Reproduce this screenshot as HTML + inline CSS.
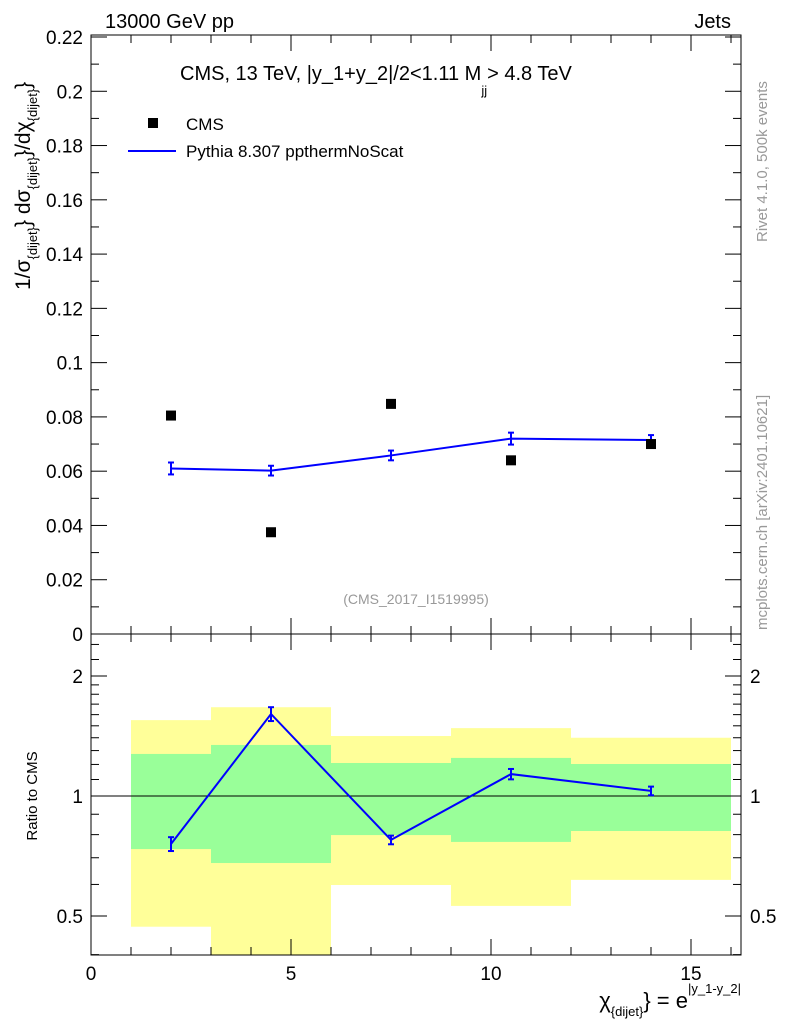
<!DOCTYPE html>
<html><head><meta charset="utf-8"><style>
body{margin:0;background:#fff;}
svg text{font-family:"Liberation Sans",sans-serif;}
</style></head><body>
<svg id="c" width="786" height="1024" xmlns="http://www.w3.org/2000/svg"></svg>
<script>
const xBins=[2,4.5,7.5,10.5,14];
const cmsVals=[0.0805,0.0375,0.0848,0.064,0.070];
const pyVals=[0.061,0.0602,0.0658,0.072,0.0715];
const pyErr=[0.0022,0.0018,0.0018,0.0022,0.0018];
const ratioVals=[0.758,1.606,0.776,1.135,1.03];
const ratioErr=[0.04,0.04,0.025,0.03,0.025];
const binEdges=[1,3,6,9,12,16];
const yellowHi=[1.55,1.67,1.414,1.48,1.40];
const yellowLo=[0.47,0.35,0.598,0.53,0.616];
const greenHi=[1.275,1.343,1.21,1.246,1.203];
const greenLo=[0.736,0.679,0.798,0.767,0.817];
const mainTicks=[0,0.02,0.04,0.06,0.08,0.1,0.12,0.14,0.16,0.18,0.2,0.22];
const mainTickLabels=["0","0.02","0.04","0.06","0.08","0.1","0.12","0.14","0.16","0.18","0.2","0.22"];
const xTicks=[0,5,10,15];
const ratioTicks=[0.5,1,2];

const svg=document.getElementById('c');
const NS="http://www.w3.org/2000/svg";
const L=91,R=741,T=35,MB=634,RB=955;
const X=v=>L+v*40;
const Y=v=>634-v*(597/0.22);
const RY=v=>796-Math.log2(v)*120;
function el(t,a,p){const e=document.createElementNS(NS,t);for(const k in a)e.setAttribute(k,a[k]);(p||svg).appendChild(e);return e;}
function tx(s,x,y,o){const e=el('text',Object.assign({x:x,y:y,'font-size':19,fill:'#000'},o||{}));e.textContent=s;return e;}
function rich(parts,x,y,o){const e=el('text',Object.assign({x:x,y:y,fill:'#000'},o||{}));let cur=0;parts.forEach(p=>{const s=el('tspan',{'font-size':p[1],dy:p[2]-cur},e);s.textContent=p[0];cur=p[2];});return e;}

// bands
const clipR=el('clipPath',{id:'cr'});el('rect',{x:L,y:MB,width:R-L,height:RB-MB},clipR);
const bands=el('g',{'clip-path':'url(#cr)'});

for(let i=0;i<5;i++){
 const y=el('rect',{x:X(binEdges[i]),width:X(binEdges[i+1])-X(binEdges[i]),y:RY(yellowHi[i]),height:RY(yellowLo[i])-RY(yellowHi[i]),fill:'#ffff99'},bands);
 
 const g=el('rect',{x:X(binEdges[i]),width:X(binEdges[i+1])-X(binEdges[i]),y:RY(greenHi[i]),height:RY(greenLo[i])-RY(greenHi[i]),fill:'#99ff99'},bands);
 
}
el('line',{x1:L,x2:R,y1:RY(1),y2:RY(1),stroke:'#000','stroke-width':1});

el('rect',{x:L,y:T,width:R-L,height:MB-T,fill:'none',stroke:'#000','stroke-width':1});
el('rect',{x:L,y:MB,width:R-L,height:RB-MB,fill:'none',stroke:'#000','stroke-width':1});

mainTicks.forEach((v,i)=>{
 const y=Y(v);
 el('line',{x1:L,x2:L+16,y1:y,y2:y,stroke:'#000'});el('line',{x1:R,x2:R-16,y1:y,y2:y,stroke:'#000'});
 if(i<mainTicks.length-1){const ym=Y(v+0.01);el('line',{x1:L,x2:L+8,y1:ym,y2:ym,stroke:'#000'});el('line',{x1:R,x2:R-8,y1:ym,y2:ym,stroke:'#000'});}
 const t=tx(mainTickLabels[i],83,y+7,{'text-anchor':'end'});
 
});
for(let v=0;v<=16;v++){
 const x=X(v),big=v%5==0,h=big?16:8;
 el('line',{x1:x,x2:x,y1:MB,y2:MB-h,stroke:'#000'});el('line',{x1:x,x2:x,y1:T,y2:T+h,stroke:'#000'});
 el('line',{x1:x,x2:x,y1:RB,y2:RB-h,stroke:'#000'});el('line',{x1:x,x2:x,y1:MB,y2:MB+h,stroke:'#000'});
}
xTicks.forEach(v=>{const t=tx(String(v),X(v),980,{'text-anchor':'middle'});});
ratioTicks.forEach(v=>{
 const y=RY(v);
 el('line',{x1:L,x2:L+16,y1:y,y2:y,stroke:'#000'});el('line',{x1:R,x2:R-16,y1:y,y2:y,stroke:'#000'});
 const lab=v==0.5?"0.5":String(v);
 const a=tx(lab,83,y+7,{'text-anchor':'end'});
 const b=tx(lab,750,y+7);
});
[0.4,0.6,0.7,0.8,0.9,1.1,1.2,1.3,1.4,1.5,1.6,1.7,1.8,1.9,2.2,2.4].forEach(v=>{const y=RY(v);el('line',{x1:L,x2:L+8,y1:y,y2:y,stroke:'#000'});el('line',{x1:R,x2:R-8,y1:y,y2:y,stroke:'#000'});});

const pl=el('polyline',{points:xBins.map((x,i)=>X(x)+','+Y(pyVals[i])).join(' '),fill:'none',stroke:'#0000ff','stroke-width':2});

xBins.forEach((x,i)=>{
 const g=el('g',{stroke:'#0000ff','stroke-width':2});
 
 const a=Y(pyVals[i]+pyErr[i]),b=Y(pyVals[i]-pyErr[i]);
 el('line',{x1:X(x),x2:X(x),y1:a,y2:b},g);el('line',{x1:X(x)-3,x2:X(x)+3,y1:a,y2:a},g);el('line',{x1:X(x)-3,x2:X(x)+3,y1:b,y2:b},g);
});
xBins.forEach((x,i)=>{
 const r=el('rect',{x:X(x)-5,y:Y(cmsVals[i])-5,width:10,height:10,fill:'#000'});
 
});
const rl=el('polyline',{points:xBins.map((x,i)=>X(x)+','+RY(ratioVals[i])).join(' '),fill:'none',stroke:'#0000ff','stroke-width':2});

xBins.forEach((x,i)=>{
 const g=el('g',{stroke:'#0000ff','stroke-width':2});
 
 const a=RY(ratioVals[i]*(1+ratioErr[i])),b=RY(ratioVals[i]*(1-ratioErr[i]));
 el('line',{x1:X(x),x2:X(x),y1:a,y2:b},g);el('line',{x1:X(x)-3,x2:X(x)+3,y1:a,y2:a},g);el('line',{x1:X(x)-3,x2:X(x)+3,y1:b,y2:b},g);
});

let t;
t=tx("13000 GeV pp",105,28,{'font-size':20});
t=tx("Jets",731,28,{'font-size':20,'text-anchor':'end'});
t=rich([["CMS, 13 TeV, |y_1+y_2|/2<1.11 M",20,0],["jj",13,15],["> 4.8 TeV",20,0]],180,80);

el('rect',{x:148,y:118,width:10,height:10,fill:'#000'});
t=tx("CMS",186,130,{'font-size':17});
el('line',{x1:128,x2:176,y1:151,y2:151,stroke:'#0000ff','stroke-width':2});
t=tx("Pythia 8.307 ppthermNoScat",186,157,{'font-size':17});
t=tx("(CMS_2017_I1519995)",416,604,{'font-size':14,fill:'#999','text-anchor':'middle'});
t=tx("Ratio to CMS",0,0,{'font-size':15,transform:'translate(37,796) rotate(-90)','text-anchor':'middle'});
t=rich([["1/σ",21,0],["{dijet}",13,7],["} dσ",21,0],["{dijet}",13,7],["}/dχ",21,0],["{dijet}",13,7],["}",21,0]],0,0,{transform:'translate(30,290) rotate(-90)'});

t=rich([["χ",22,0],["{dijet}",13,8],["} = e",22,0],["|y_1-y_2|",13,-15]],741,1008,{'text-anchor':'end'});

t=tx("Rivet 4.1.0,  500k events",0,0,{'font-size':15,fill:'#999',transform:'translate(767,242) rotate(-90)'});
t=tx("mcplots.cern.ch [arXiv:2401.10621]",0,0,{'font-size':15,fill:'#999',transform:'translate(767,630) rotate(-90)'});
</script>
</body></html>
